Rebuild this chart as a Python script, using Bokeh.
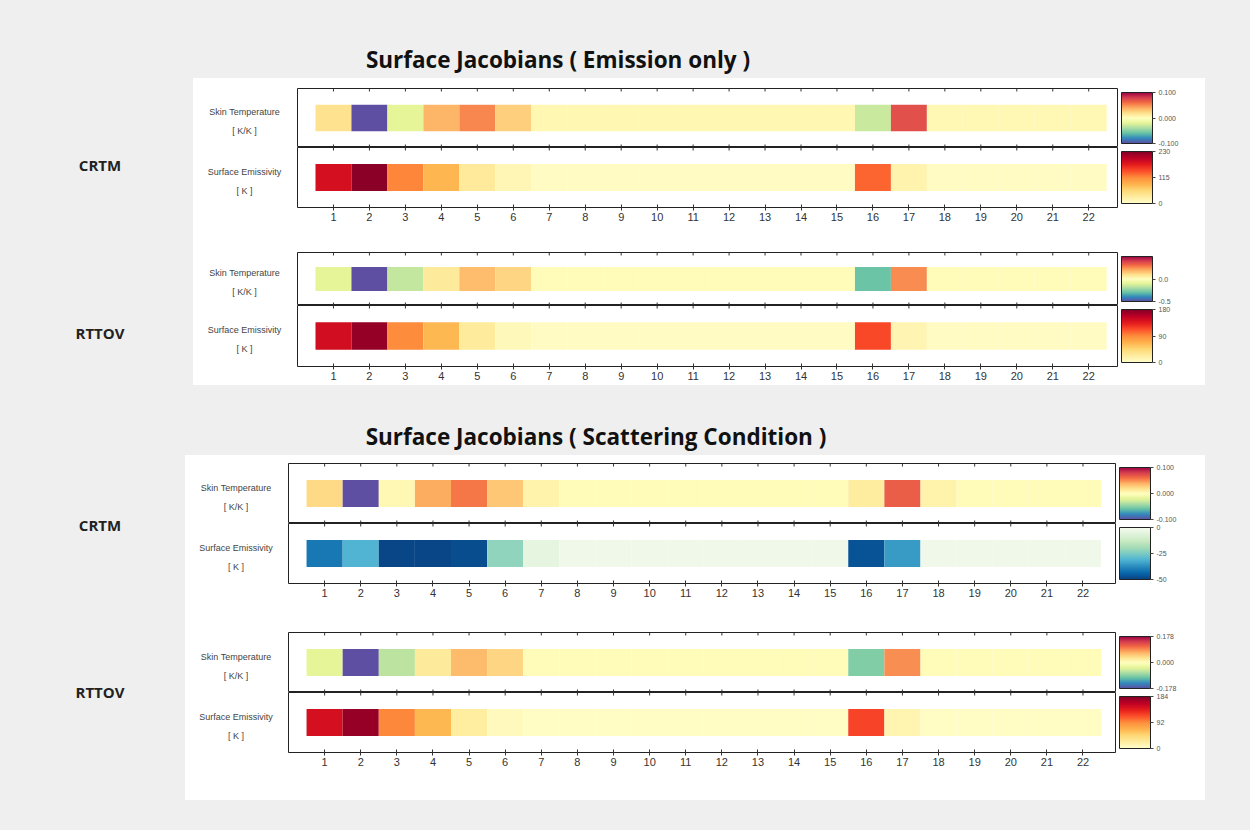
import numpy as np
from bokeh.plotting import figure
from bokeh.models import (ColumnDataSource, LinearColorMapper, ColorBar, FixedTicker,
                          PrintfTickFormatter, Div, Spacer, LinearAxis, Range1d)
from bokeh.layouts import column, row
from bokeh.embed import file_html
from bokeh.resources import INLINE

# ---------------- data ----------------
channels = list(range(1, 23))

row_labels = {"skin": ("Skin Temperature", "[ K/K ]"),
              "emis": ("Surface Emissivity", "[ K ]")}
titles = ["Surface Jacobians ( Emission only )", "Surface Jacobians ( Scattering Condition )"]
models = ["CRTM", "RTTOV"]

# Emission only
em_crtm_skin = [0.018, -0.100, -0.020, 0.037, 0.052, 0.026, 0.005, 0.005, 0.005, 0.005, 0.005,
                0.005, 0.005, 0.005, 0.005, -0.030, 0.072, 0.004, 0.004, 0.004, 0.004, 0.004]
em_crtm_emis = [185, 225, 118, 83, 33, 16, 7, 7, 7, 7, 7, 7, 7, 7, 7, 133, 20, 7, 7, 7, 7, 7]
em_rttov_skin = [-0.10, -0.50, -0.16, 0.07, 0.17, 0.12, 0.01, 0.01, 0.01, 0.01, 0.01,
                 0.01, 0.01, 0.01, 0.01, -0.29, 0.25, 0.01, 0.01, 0.01, 0.01, 0.01]
em_rttov_emis = [145, 172, 90, 64, 25, 9, 5, 5, 5, 5, 5, 5, 5, 5, 5, 115, 14, 5, 5, 5, 5, 5]

# Scattering condition
sc_crtm_skin = [0.022, -0.100, 0.004, 0.040, 0.057, 0.030, 0.008, 0.003, 0.003, 0.003, 0.003,
                0.003, 0.003, 0.003, 0.003, 0.012, 0.066, 0.008, 0.003, 0.003, 0.003, 0.003]
sc_crtm_emis = [-41, -31, -49, -49, -48, -22, -5, -2, -2, -2, -2, -2, -2, -2, -2, -47, -35,
                -2, -2, -2, -2, -2]
sc_rttov_skin = [-0.035, -0.178, -0.060, 0.025, 0.062, 0.042, 0.003, 0.003, 0.003, 0.003, 0.003,
                 0.003, 0.003, 0.003, 0.003, -0.092, 0.088, 0.003, 0.003, 0.003, 0.003, 0.003]
sc_rttov_emis = [148, 175, 94, 66, 23, 8, 5, 5, 5, 5, 5, 5, 5, 5, 5, 120, 15, 5, 5, 5, 5, 5]

# colour-bar limits and ticks
lim_em_crtm_skin = (-0.100, 0.100); tk_em_crtm_skin = [-0.100, 0.0, 0.100]
lim_em_crtm_emis = (0, 230);        tk_em_crtm_emis = [0, 115, 230]
lim_em_rttov_skin = (-0.5, 0.5);    tk_em_rttov_skin = [-0.5, 0.0]
lim_em_rttov_emis = (0, 180);       tk_em_rttov_emis = [0, 90, 180]
lim_sc_crtm_skin = (-0.100, 0.100); tk_sc_crtm_skin = [-0.100, 0.0, 0.100]
lim_sc_crtm_emis = (-50, 0);        tk_sc_crtm_emis = [-50, -25, 0]
lim_sc_rttov_skin = (-0.178, 0.178); tk_sc_rttov_skin = [-0.178, 0.0, 0.178]
lim_sc_rttov_emis = (0, 184);       tk_sc_rttov_emis = [0, 92, 184]

# ---------------- palettes ----------------
def interp_palette(colors, n=256):
    rgb = np.array([[int(c[i:i + 2], 16) for i in (1, 3, 5)] for c in colors], float)
    xs = np.linspace(0, 1, len(colors))
    t = np.linspace(0, 1, n)
    out = np.stack([np.interp(t, xs, rgb[:, k]) for k in range(3)], axis=1)
    return ["#%02x%02x%02x" % tuple(int(round(v)) for v in c) for c in out]

SPECTRAL = interp_palette(['#5e4fa2', '#3288bd', '#66c2a5', '#abdda4', '#e6f598', '#ffffbf',
                           '#fee08b', '#fdae61', '#f46d43', '#d53e4f', '#9e0142'])
YLORRD = interp_palette(['#ffffcc', '#ffeda0', '#fed976', '#feb24c', '#fd8d3c', '#fc4e2a',
                         '#e31a1c', '#bd0026', '#800026'])
GNBU = interp_palette(['#084081', '#0868ac', '#2b8cbe', '#4eb3d3', '#7bccc4', '#a8ddb5',
                       '#ccebc5', '#e0f3db', '#f7fcf0'])

GRAY = "#efefef"
LABEL_FONT = "Liberation Sans"
PAGE_W = 1250


def row_fig(values, palette, lim, ticks, fmt, width, left, frame_w, x_end, height, top, bottom,
            kind, bottom_axis):
    mapper = LinearColorMapper(palette=palette, low=lim[0], high=lim[1])
    src = ColumnDataSource(dict(x=channels, v=values))
    frame_h = height - top - bottom
    tick = 3.0 / frame_h
    p = figure(width=width, height=height, x_range=Range1d(0, x_end), y_range=Range1d(0, 1),
               output_backend="svg", toolbar_location=None,
               min_border_left=left, min_border_right=width - left - frame_w,
               min_border_top=top, min_border_bottom=bottom,
               x_axis_location=None, y_axis_location=None, margin=0)
    p.xgrid.visible = False
    p.ygrid.visible = False
    p.background_fill_color = "white"
    p.border_fill_color = "white"
    p.outline_line_color = "#222222"
    p.outline_line_width = 1
    p.rect(x="x", y=0.5, width=1, height=0.45, source=src, line_color=None,
           fill_color={"field": "v", "transform": mapper})
    # inward tick marks on the top edge of each row, and on the divider
    p.segment(x0="x", x1="x", y0=1.0, y1=1.0 - tick, source=src, line_color="#333333",
              line_width=1)
    if kind == "skin":
        p.segment(x0="x", x1="x", y0=0.0, y1=tick, source=src, line_color="#333333",
                  line_width=1)
    if bottom_axis:
        ax = LinearAxis(ticker=FixedTicker(ticks=channels), major_tick_in=3, major_tick_out=3,
                        major_label_standoff=2, major_label_text_font_size="11px",
                        major_label_text_font=LABEL_FONT, major_label_text_color="#333333",
                        axis_line_color=None, minor_tick_line_color=None,
                        major_tick_line_color="#333333")
        p.add_layout(ax, "below")
    cb = ColorBar(color_mapper=mapper, ticker=FixedTicker(ticks=ticks),
                  formatter=PrintfTickFormatter(format=fmt), width=31, padding=4, margin=2,
                  bar_line_color="#222222", major_tick_line_color="#444444",
                  major_tick_in=0, major_tick_out=3, label_standoff=3,
                  major_label_text_font_size="7px", major_label_text_color="#555555",
                  major_label_text_font=LABEL_FONT,
                  background_fill_color=None, border_line_color=None)
    p.add_layout(cb, "right")
    return p


def label_div(kind, width, height, center_y):
    l1, l2 = row_labels[kind]
    html = (f'<div style="width:{width}px;height:{height}px;position:relative;background:white;'
            f'margin:0;padding:0;">'
            f'<div style="position:absolute;left:0;top:{center_y - 19}px;width:{width}px;'
            f'text-align:center;font-family:\'{LABEL_FONT}\';font-size:9px;color:#444;'
            f'line-height:19px;">{l1}<br>{l2}</div></div>')
    return Div(text=html, width=width, height=height, margin=0,
               styles={"background-color": "white", "margin": "0", "padding": "0"})


def model_div(width, height, centers):
    spans = "".join(
        f'<div style="position:absolute;left:40px;width:120px;top:{cy - 11}px;text-align:center;'
        f'font-family:\'Open Sans\';font-weight:bold;font-size:15px;color:#222;line-height:22px;">'
        f'{name}</div>' for name, cy in zip(models, centers))
    html = (f'<div style="width:{width}px;height:{height}px;position:relative;margin:0;'
            f'padding:0;">{spans}</div>')
    return Div(text=html, width=width, height=height, margin=0,
               styles={"background-color": GRAY, "margin": "0", "padding": "0"})


def title_div(text, cx, cy, height, width=PAGE_W):
    html = (f'<div style="width:{width}px;height:{height}px;position:relative;margin:0;padding:0;">'
            f'<div style="position:absolute;left:{cx - 300}px;width:600px;top:{cy - 15}px;'
            f'text-align:center;font-family:\'Open Sans\';font-weight:bold;font-size:22.5px;'
            f'color:#111;line-height:30px;">{text}</div></div>')
    return Div(text=html, width=width, height=height, margin=0,
               styles={"background-color": GRAY, "margin": "0", "padding": "0"})


def group(rows_spec, lab_w, fig_w, frame_w, x_end, gray_w, centers):
    children = []
    total_h = 0
    for (vals, pal, lim, ticks, fmt, kind, h, top, bottom, baxis) in rows_spec:
        p = row_fig(vals, pal, lim, ticks, fmt, fig_w, 1, frame_w, x_end, h, top, bottom,
                    kind, baxis)
        frame_h = h - top - bottom
        d = label_div(kind, lab_w, h, top + frame_h // 2 + 5)
        children.append(row(d, p, spacing=0, margin=0))
        total_h += h
    col = column(*children, spacing=0, margin=0, styles={"background-color": "white"})
    right_w = PAGE_W - gray_w - lab_w - fig_w
    return row(model_div(gray_w, total_h, centers), col,
               Spacer(width=right_w, height=total_h, margin=0,
                      styles={"background-color": GRAY}),
               spacing=0, margin=0)


g1 = group([
    (em_crtm_skin, SPECTRAL, lim_em_crtm_skin, tk_em_crtm_skin, "%.3f", "skin", 69, 10, 0, False),
    (em_crtm_emis, YLORRD, lim_em_crtm_emis, tk_em_crtm_emis, "%d", "emis", 105, 0, 45, True),
    (em_rttov_skin, SPECTRAL, lim_em_rttov_skin, tk_em_rttov_skin, "%.1f", "skin", 53, 0, 0, False),
    (em_rttov_emis, YLORRD, lim_em_rttov_emis, tk_em_rttov_emis, "%d", "emis", 80, 0, 19, True),
], lab_w=103, fig_w=909, frame_w=820, x_end=22.8, gray_w=193, centers=[87, 255])

g2 = group([
    (sc_crtm_skin, SPECTRAL, lim_sc_crtm_skin, tk_sc_crtm_skin, "%.3f", "skin", 68, 8, 0, False),
    (sc_crtm_emis, GNBU, lim_sc_crtm_emis, tk_sc_crtm_emis, "%d", "emis", 109, 0, 49, True),
    (sc_rttov_skin, SPECTRAL, lim_sc_rttov_skin, tk_sc_rttov_skin, "%.3f", "skin", 60, 0, 0, False),
    (sc_rttov_emis, YLORRD, lim_sc_rttov_emis, tk_sc_rttov_emis, "%d", "emis", 108, 0, 48, True),
], lab_w=102, fig_w=918, frame_w=827, x_end=22.9, gray_w=185, centers=[70, 237])

root = column(
    title_div(titles[0], 558, 60, 78),
    g1,
    title_div(titles[1], 596, 52, 70),
    g2,
    Spacer(width=PAGE_W, height=30, margin=0, styles={"background-color": GRAY}),
    spacing=0, margin=0, styles={"background-color": GRAY},
)

open("out.html", "w").write(file_html(root, INLINE))
